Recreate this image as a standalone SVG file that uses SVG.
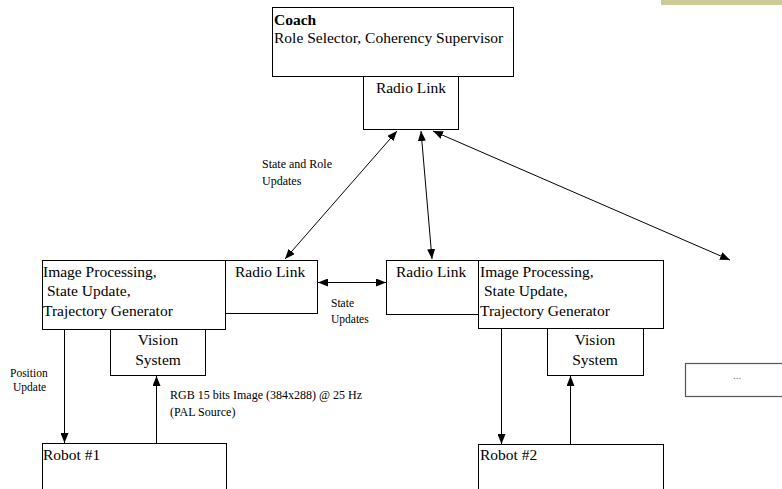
<svg xmlns="http://www.w3.org/2000/svg" width="782" height="489" viewBox="0 0 782 489">
<style>
  .box { fill: #fff; stroke: #000; stroke-width: 1; }
  .t { font-family: "Liberation Serif", "Times New Roman", serif; font-size: 15.5px; fill: #000; }
  .s { font-family: "Liberation Serif", "Times New Roman", serif; font-size: 12px; fill: #000; }
  .xs { font-family: "Liberation Serif", "Times New Roman", serif; font-size: 11.5px; fill: #000; }
  .c { text-anchor: middle; }
  .ln { stroke: #000; stroke-width: 1; fill: none; marker-end: url(#ah); }
  .dl { marker-start: url(#ah); }
</style>
<defs>
  <marker id="ah" markerUnits="userSpaceOnUse" markerWidth="10" markerHeight="8" refX="10" refY="4" orient="auto-start-reverse">
    <path d="M0,0 L10,4 L0,8 z" fill="#000"/>
  </marker>
</defs>
<rect x="661" y="0" width="121" height="5" fill="#cccb97"/>

<g id="coach">
  <rect class="box" x="272.5" y="7.5" width="241" height="69"/>
  <text class="t" x="274" y="25" font-weight="bold">Coach</text>
  <text class="t" x="274" y="43">Role Selector, Coherency Supervisor</text>
</g>
<g id="coach-radio">
  <rect class="box" x="363.5" y="76.5" width="95" height="53"/>
  <text class="t c" x="411" y="93">Radio Link</text>
</g>

<g id="r1-proc">
  <rect class="box" x="42.5" y="260.5" width="183" height="69"/>
  <text class="t" x="43" y="277">Image Processing,</text>
  <text class="t" x="47" y="296">State Update,</text>
  <text class="t" x="43" y="316">Trajectory Generator</text>
</g>
<g id="r1-radio">
  <rect class="box" x="225.5" y="260.5" width="92" height="53"/>
  <text class="t" x="235" y="277">Radio Link</text>
</g>
<g id="r1-vision">
  <rect class="box" x="110.5" y="329.5" width="95" height="46"/>
  <text class="t c" x="158" y="345">Vision</text>
  <text class="t c" x="158" y="365">System</text>
</g>
<g id="robot1">
  <rect class="box" x="42.5" y="443.5" width="184" height="60"/>
  <text class="t" x="43" y="460">Robot #1</text>
</g>

<g id="r2-radio">
  <rect class="box" x="386.5" y="260.5" width="92" height="54"/>
  <text class="t" x="396" y="277">Radio Link</text>
</g>
<g id="r2-proc">
  <rect class="box" x="478.5" y="260.5" width="185" height="68"/>
  <text class="t" x="480" y="277">Image Processing,</text>
  <text class="t" x="484" y="296">State Update,</text>
  <text class="t" x="480" y="316">Trajectory Generator</text>
</g>
<g id="r2-vision">
  <rect class="box" x="547.5" y="328.5" width="96" height="47"/>
  <text class="t c" x="595" y="345">Vision</text>
  <text class="t c" x="595" y="365">System</text>
</g>
<g id="robot2">
  <rect class="box" x="478.5" y="444.5" width="185" height="60"/>
  <text class="t" x="480" y="460">Robot #2</text>
</g>

<g id="more">
  <rect x="685.5" y="363.5" width="110" height="33" fill="#fff" stroke="#555" stroke-width="1.2"/>
  <text x="737" y="379" font-family="Liberation Serif, serif" font-size="11" fill="#777" text-anchor="middle">...</text>
</g>

<g id="connectors">
  <line class="ln dl" x1="397" y1="131" x2="285" y2="259"/>
  <line class="ln dl" x1="421" y1="131" x2="432" y2="259"/>
  <line class="ln dl" x1="433" y1="131" x2="730" y2="260"/>
  <line class="ln dl" x1="318" y1="282.5" x2="386" y2="282.5"/>
  <line class="ln" x1="64.5" y1="330" x2="64.5" y2="443"/>
  <line class="ln" x1="156.5" y1="443" x2="156.5" y2="376"/>
  <line class="ln" x1="501.5" y1="329" x2="501.5" y2="444"/>
  <line class="ln" x1="570.5" y1="444" x2="570.5" y2="376"/>
</g>

<g id="labels">
  <text class="s" x="262" y="168">State and Role</text>
  <text class="s" x="262" y="185">Updates</text>
  <text class="xs" x="331" y="307">State</text>
  <text class="xs" x="331" y="323">Updates</text>
  <text class="xs" x="10" y="377">Position</text>
  <text class="xs" x="13" y="391">Update</text>
  <text class="s" x="170" y="399">RGB 15 bits Image (384x288) @ 25 Hz</text>
  <text class="s" x="170" y="416">(PAL Source)</text>
</g>
</svg>
